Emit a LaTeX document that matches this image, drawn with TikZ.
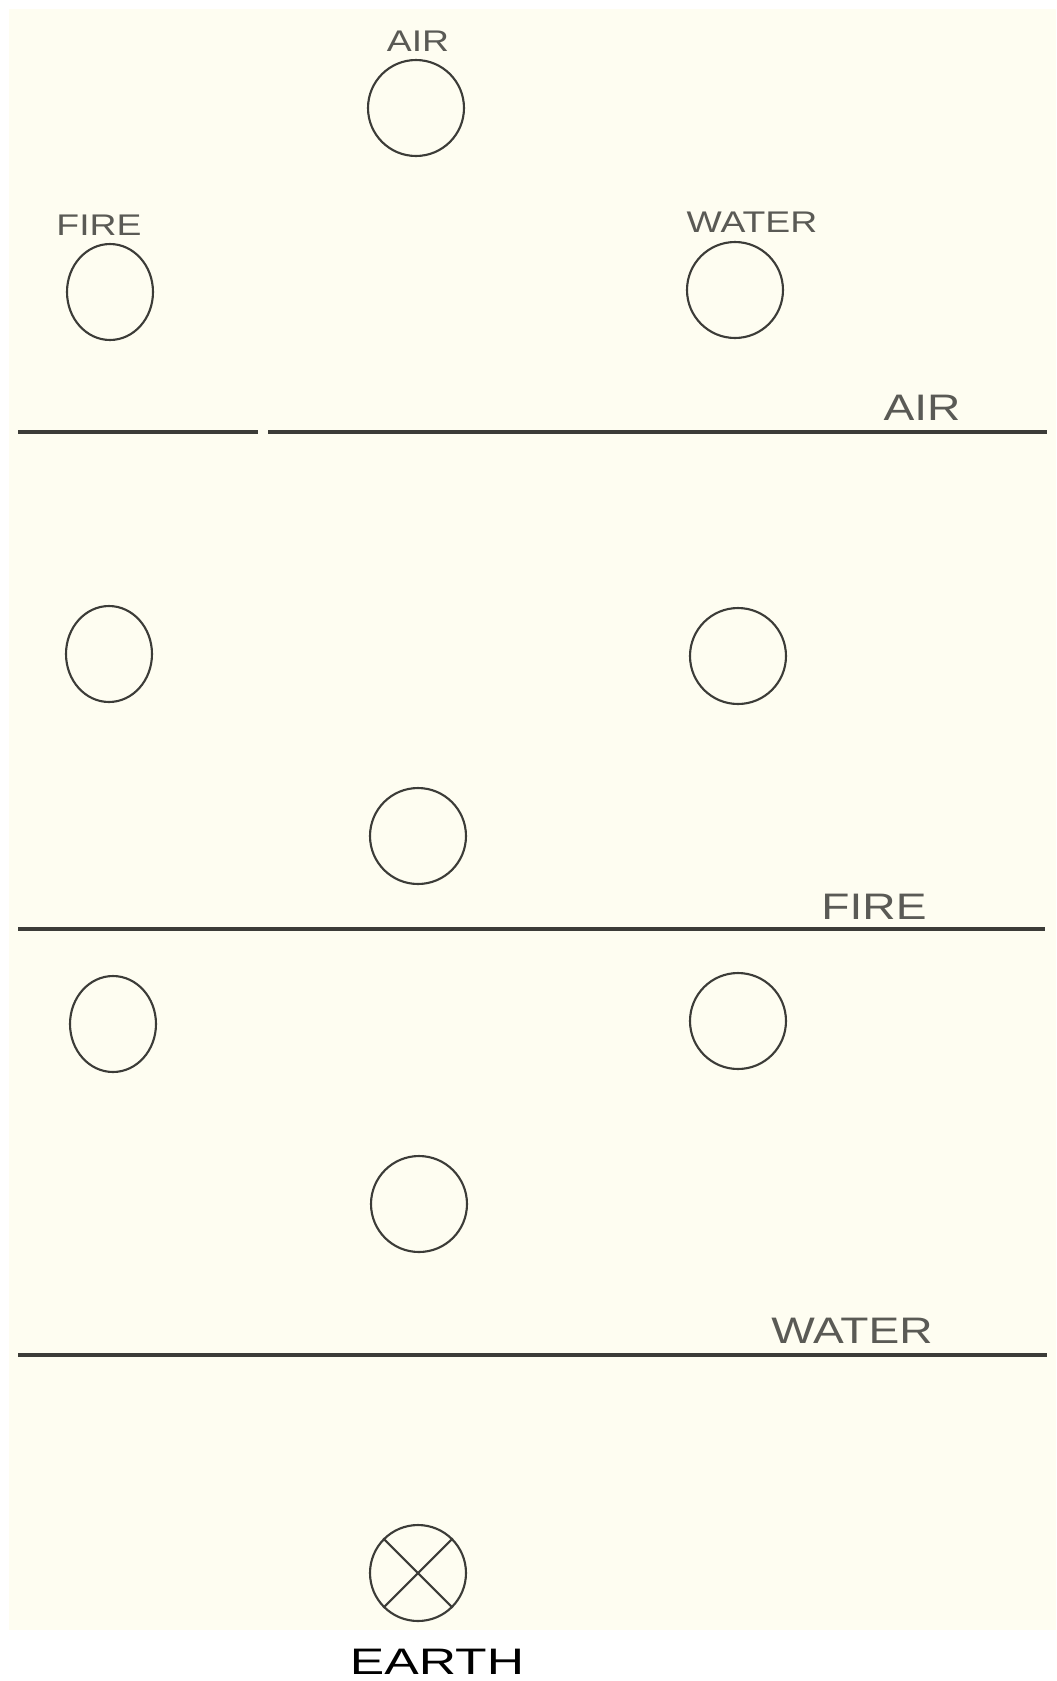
\documentclass[tikz,border=0pt]{standalone}
\usepackage{fontspec}
\usetikzlibrary{positioning,shapes.geometric}
\newfontfamily\handfont[FakeStretch=1.25]{Liberation Sans}
\newfontfamily\earthfont[FakeStretch=1.4]{Liberation Sans}
\definecolor{paper}{HTML}{FEFDF1}
\definecolor{pencil}{HTML}{3C3C38}
\definecolor{letter}{HTML}{5A5A55}

\begin{document}
\begin{tikzpicture}[x=0.02cm,y=-0.02cm,
			element/.style={
				draw=pencil,
				line width=1.2pt,
				ellipse,
				inner sep=0pt,
				minimum width=1.92cm,
				minimum height=1.92cm
			},
			narrow/.style={element,minimum width=1.72cm},
			toplabel/.style={text=letter,font=\handfont\fontsize{17}{17}\selectfont,inner sep=0pt},
			linelabel/.style={text=letter,font=\handfont\fontsize{21}{21}\selectfont,inner sep=0pt},
			divider/.style={draw=pencil,line width=1.8pt}]
			
			\useasboundingbox (0,0) rectangle (1056,1681);
			
			\fill[paper] (9,9) rectangle (1056,1630);
			
			\node(air1)[element] at (416,108){};
			
			\node(fire1)[narrow] at (110,292){};
			
			\node(water1)[element] at (735,290){};
			
			\node(airtxt)[toplabel] at (418,41){AIR};
			
			\node(firetxt)[toplabel] at (99,225){FIRE};
			
			\node(watertxt)[toplabel] at (752,222){WATER};
			
			\draw[divider](18,432)--(258,432);
			
			\draw[divider](268,432)--(1047,432);
			
			\node(airline)[linelabel] at (922,408){AIR};
			
			\node(fire2)[narrow] at (109,654){};
			
			\node(water2)[element] at (738,656){};
			
			\node(air2)[element] at (418,836){};
			
			\draw[divider](18,929)--(1045,929);
			
			\node(fireline)[linelabel] at (874,907){FIRE};
			
			\node(fire3)[narrow] at (113,1024){};
			
			\node(water3)[element] at (738,1021){};
			
			\node(air3)[element] at (419,1204){};
			
			\draw[divider](18,1355)--(1047,1355);
			
			\node(waterline)[linelabel] at (852,1331){WATER};
			
			\node(earth)[element,circle] at (418,1573){};
			
			\draw[pencil,line width=1.2pt](earth.north west)--(earth.south east);
			
			\draw[pencil,line width=1.2pt](earth.north east)--(earth.south west);
			
			\node(earthtxt)[font=\earthfont\fontsize{21}{21}\selectfont,inner sep=0pt] at (437,1662){EARTH};
			
		\end{tikzpicture}
\end{document}
